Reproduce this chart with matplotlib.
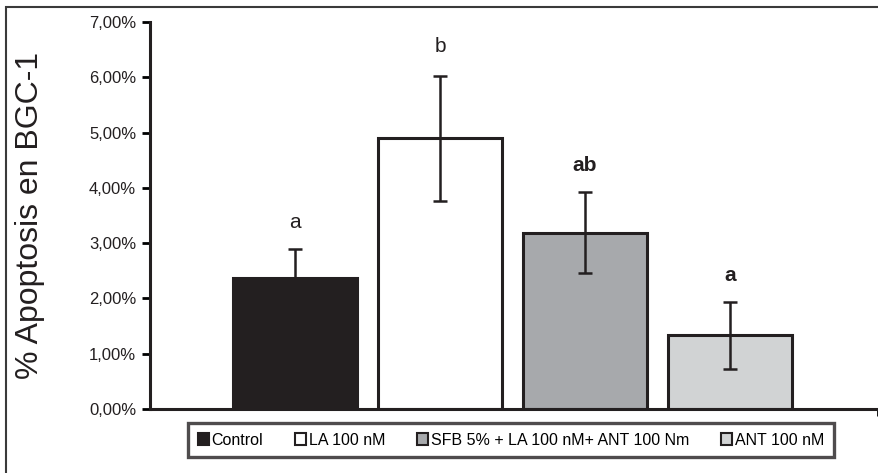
import matplotlib.pyplot as plt
from matplotlib.patches import Rectangle, Patch
from matplotlib.ticker import FuncFormatter

plt.rcParams['font.family'] = ['Liberation Sans', 'DejaVu Sans']

# datos
grupos = ['Control', 'LA 100 nM', 'SFB 5% + LA 100 nM+ ANT 100 Nm', 'ANT 100 nM']
apoptosis = [2.37, 4.90, 3.19, 1.33]
error = [0.52, 1.13, 0.73, 0.60]
letras = ['a', 'b', 'ab', 'a']
letras_y = [3.38, 6.55, 4.41, 2.42]
letras_bold = [False, False, True, True]
colores = ['#231f20', '#ffffff', '#a7a9ac', '#d1d3d4']

W, H = 879, 473
fig = plt.figure(figsize=(W / 100, H / 100), dpi=100)
ax = fig.add_axes([150 / W, 1 - 409 / H, (878 - 150) / W, (409 - 22) / H])

x = list(range(len(grupos)))
ax.bar(x, apoptosis, width=0.85, color=colores, edgecolor='#231f20',
       linewidth=2.2, zorder=2)
ax.errorbar(x, apoptosis, yerr=error, fmt='none', ecolor='#231f20',
            elinewidth=1.8, capsize=5, capthick=1.8, zorder=3)

for xi, txt, yy, b in zip(x, letras, letras_y, letras_bold):
    ax.text(xi, yy, txt, ha='center', va='center', fontsize=15,
            fontweight='bold' if b else 'normal', color='#231f20')

ax.set_xlim(-1.0, 4.02)
ax.set_ylim(0, 7)
ax.set_yticks([0, 1, 2, 3, 4, 5, 6, 7])
ax.yaxis.set_major_formatter(FuncFormatter(lambda v, p: f'{v:.2f}%'.replace('.', ',')))
ax.set_xticks([4.02])
ax.set_xticklabels([])
ax.tick_params(axis='y', direction='out', length=6, width=2, labelsize=12,
               labelcolor='#231f20', pad=4)
ax.tick_params(axis='x', direction='out', length=5, width=2)

for s in ['top', 'right']:
    ax.spines[s].set_visible(False)
for s in ['left', 'bottom']:
    ax.spines[s].set_linewidth(2.2)
    ax.spines[s].set_color('#231f20')

ax.set_ylabel('% Apoptosis en BGC-1', fontsize=23, color='#231f20')
ax.yaxis.set_label_coords((45 - 150) / (878 - 150), 0.5)

# leyenda
handles = [Patch(facecolor=c, edgecolor='#231f20', linewidth=1.5) for c in colores]
leg = fig.legend(handles, grupos, loc='center',
                 bbox_to_anchor=(511 / W, 1 - 440 / H),
                 ncol=4, fontsize=11.5, frameon=True, fancybox=False,
                 handlelength=0.7, handleheight=0.7, handletextpad=0.15,
                 columnspacing=2.0, borderaxespad=0, borderpad=0.6)
leg.get_frame().set_edgecolor('#231f20')
leg.get_frame().set_linewidth(2.4)

# marco exterior
fig.patches.append(Rectangle((6 / W, -0.1), 1.2, 1 - 7 / H + 0.1,
                             transform=fig.transFigure, fill=False,
                             edgecolor='#3a3a3a', linewidth=1.5))

fig.savefig('out.png', dpi=100)
